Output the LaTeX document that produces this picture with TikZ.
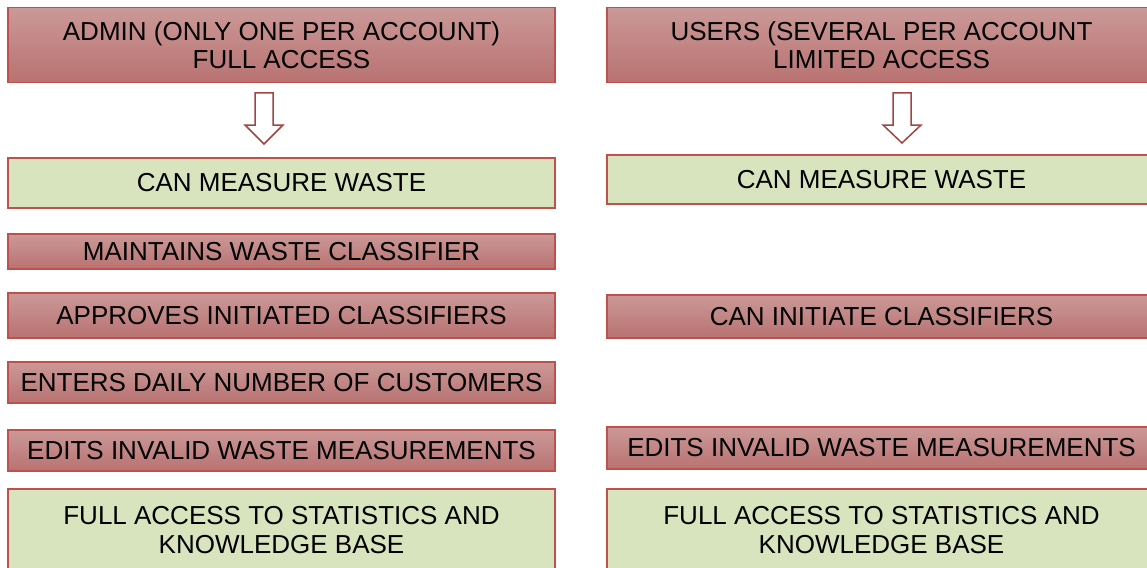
\documentclass[tikz,border=0pt]{standalone}
\usepackage{fontspec}
\setmainfont{Liberation Sans}
\definecolor{rimred}{RGB}{192,80,77}
\definecolor{redtop}{RGB}{203,153,152}
\definecolor{redbot}{RGB}{184,114,113}
\definecolor{greenfill}{RGB}{215,228,189}
\begin{document}
\begin{tikzpicture}[x=1pt,y=-1pt,
  box/.style={draw=rimred, line width=1.2pt, rectangle, inner sep=0pt,
    align=center, font=\fontsize{26}{28.5}\selectfont, text=black},
  redbox/.style={box, top color=redtop, bottom color=redbot},
  greenbox/.style={box, fill=greenfill},
  leftcol/.style={minimum width=547pt},
  rightcol/.style={minimum width=549pt},
  blockarrow/.style={draw=rimred!85!black, line width=1.5pt, fill=white, line join=miter}]
\useasboundingbox (0,0) rectangle (1147,567);
\clip (0,0) rectangle (1147,567);

% administrator column
\node[redbox, leftcol, minimum height=75pt] (admin) at (281.5,45)
  {ADMIN (ONLY ONE PER ACCOUNT)\\FULL ACCESS};
\node[greenbox, leftcol, minimum height=50pt] (measureL) at (281.5,183)
  {CAN MEASURE WASTE};
\node[redbox, leftcol, minimum height=35pt] (maintain) at (281.5,251.5)
  {MAINTAINS WASTE CLASSIFIER};
\node[redbox, leftcol, minimum height=45pt] (approve) at (281.5,315.5)
  {APPROVES INITIATED CLASSIFIERS};
\node[redbox, leftcol, minimum height=41pt] (enters) at (281.5,382.5)
  {ENTERS DAILY NUMBER OF CUSTOMERS};
\node[redbox, leftcol, minimum height=41pt] (editsL) at (281.5,450.5)
  {EDITS INVALID WASTE MEASUREMENTS};
\node[greenbox, leftcol, minimum height=82pt] (fullL) at (281.5,530)
  {FULL ACCESS TO STATISTICS AND\\KNOWLEDGE BASE};

% user column
\node[redbox, rightcol, minimum height=75pt] (users) at (881.5,45)
  {USERS (SEVERAL PER ACCOUNT\\LIMITED ACCESS};
\node[greenbox, rightcol, minimum height=49pt] (measureR) at (881.5,179.5)
  {CAN MEASURE WASTE};
\node[redbox, rightcol, minimum height=43pt] (initiate) at (881.5,316.5)
  {CAN INITIATE CLASSIFIERS};
\node[redbox, rightcol, minimum height=42pt] (editsR) at (881.5,448)
  {EDITS INVALID WASTE MEASUREMENTS};
\node[greenbox, rightcol, minimum height=82pt] (fullR) at (881.5,530)
  {FULL ACCESS TO STATISTICS AND\\KNOWLEDGE BASE};

% hollow block arrows below the headers
\draw[blockarrow] (255,93) -- (273,93) -- (273,125) -- (283,125) -- (264,144)
  -- (245,125) -- (255,125) -- cycle;
\draw[blockarrow] (893,93) -- (911,93) -- (911,125) -- (921,125) -- (902,143)
  -- (883,125) -- (893,125) -- cycle;
\end{tikzpicture}
\end{document}
